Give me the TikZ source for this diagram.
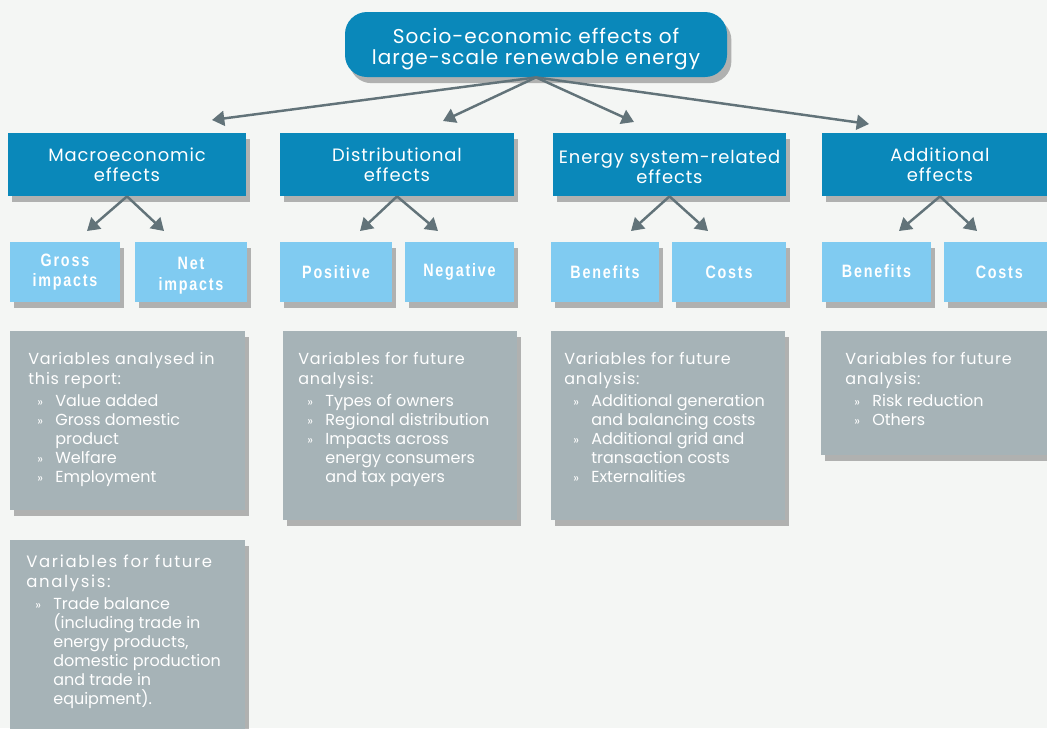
\documentclass[tikz,border=0pt]{standalone}
\usepackage{fontspec}
\setmainfont{Poppins}
\newfontfamily\headfont[LetterSpace=5]{Poppins}
\newfontfamily\titfont[LetterSpace=5]{Poppins}
\newfontfamily\titfontb[LetterSpace=10]{Poppins}
\newfontfamily\labfont[FakeStretch=0.8,LetterSpace=10]{Liberation Sans}
\usetikzlibrary{arrows.meta,shadows,fit}
\definecolor{bgcol}{HTML}{F4F6F4}
\definecolor{dblue}{HTML}{0A88BA}
\definecolor{lblue}{HTML}{80CBF1}
\definecolor{gbox}{HTML}{A6B3B7}
\definecolor{arrcol}{HTML}{627379}
\newcommand{\bul}{\makebox[0.54cm][l]{\hspace{0.18cm}\scriptsize »}}
\newcommand{\ind}{\hspace*{0.54cm}}
\tikzset{
  shad/.style={drop shadow={shadow xshift=2.5pt,shadow yshift=-3.5pt,opacity=0.28,fill=black}},
  rootbox/.style={fill=dblue,rounded corners=0.44cm,inner sep=0pt,shad},
  lvone/.style={fill=dblue,inner sep=0pt,shad},
  lvtwo/.style={fill=lblue,inner sep=0pt,shad},
  greybox/.style={fill=gbox,inner sep=0pt,shad},
  roottext/.style={inner sep=0pt,text=white,align=center,yshift=-2.8pt,
    font=\headfont\fontsize{11.4}{11.9}\selectfont},
  onetext/.style={inner sep=0pt,text=white,align=center,yshift=-0.2pt,
    font=\headfont\fontsize{10.2}{11.3}\selectfont},
  twotext/.style={inner sep=0pt,text=white,align=center,yshift=0pt,
    font=\labfont\bfseries\fontsize{10.2}{11.8}\selectfont},
  gtext/.style={anchor=north west,inner sep=0pt,text=white,align=left,
    font=\fontsize{9.1}{10.8}\selectfont},
  arr/.style={draw=arrcol,line width=1.4pt,-{Triangle[width=8.5pt,length=7pt]}}
}
\begin{document}
\begin{tikzpicture}[x=0.02cm,y=-0.02cm]
\fill[bgcol] (0,0) rectangle (1047,728);
\useasboundingbox (0,0) rectangle (1047,728);

% root
\node[rootbox,fit={(345,12)(727,77)}] (root) {};
\node[roottext] (roott) at (root.center) {Socio-economic effects of\\large-scale renewable energy};

% level 1
\node[lvone,fit={(8,133)(246,196)}] (mac) {};
\node[lvone,fit={(280,133)(514,196)}] (dis) {};
\node[lvone,fit={(553,133)(786,196)}] (ens) {};
\node[lvone,fit={(822,133)(1058,196)}] (add) {};
\node[onetext] (mact) at (mac.center) {Macroeconomic\\effects};
\node[onetext] (dist) at (dis.center) {Distributional\\effects};
\node[onetext] (enst) at ([yshift=-1pt]ens.center) {Energy system-related\\effects};
\node[onetext] (addt) at (add.center) {Additional\\effects};

\coordinate (t1) at (212,120);
\coordinate (t2) at (443,121);
\coordinate (t3) at (634,122);
\coordinate (t4) at (869,124);
\draw[arr] (root.south) -- (t1);
\draw[arr] (root.south) -- (t2);
\draw[arr] (root.south) -- (t3);
\draw[arr] (root.south) -- (t4);

% level 2
\node[lvtwo,fit={(10,242)(120,302)}] (gross) {};
\node[lvtwo,fit={(135,242)(247,302)}] (net) {};
\node[lvtwo,fit={(280,242)(392,302)}] (pos) {};
\node[lvtwo,fit={(405,242)(514,302)}] (neg) {};
\node[lvtwo,fit={(551,242)(659,302)}] (esb) {};
\node[lvtwo,fit={(672,242)(786,302)}] (esc) {};
\node[lvtwo,fit={(822,242)(931,302)}] (adb) {};
\node[lvtwo,fit={(944,242)(1058,302)}] (adc) {};
\node[twotext] (grosst) at ([yshift=0pt]gross.center) {Gross\\impacts};
\node[twotext] (nett) at ([yshift=-2.3pt]net.center) {Net\\impacts};
\node[twotext] (post) at (pos.center) {Positive};
\node[twotext] (negt) at (neg.center) {Negative};
\node[twotext] (esbt) at (esb.center) {Benefits};
\node[twotext] (esct) at (esc.center) {Costs};
\node[twotext] (adbt) at ([yshift=0.5pt]adb.center) {Benefits};
\node[twotext] (adct) at ([xshift=-1pt]adc.center) {Costs};

\coordinate (m1) at (87,231);
\coordinate (m2) at (164,231);
\coordinate (d1) at (360,231);
\coordinate (d2) at (438,231);
\coordinate (e1) at (631,231);
\coordinate (e2) at (708,231);
\coordinate (a1) at (899,231);
\coordinate (a2) at (977,231);
\draw[arr] (mac.south) -- (m1);
\draw[arr] (mac.south) -- (m2);
\draw[arr] (dis.south) -- (d1);
\draw[arr] (dis.south) -- (d2);
\draw[arr] (ens.south) -- (e1);
\draw[arr] (ens.south) -- (e2);
\draw[arr] (add.south) -- (a1);
\draw[arr] (add.south) -- (a2);

% grey boxes
\node[greybox,fit={(10,331)(245,510)}] (g1) {};
\node[greybox,fit={(10,540)(245,740)}] (g2) {};
\node[greybox,fit={(283,331)(517,520)}] (g3) {};
\node[greybox,fit={(551,331)(785,520)}] (g4) {};
\node[greybox,fit={(821,331)(1058,455)}] (g5) {};

\node[gtext] (g1t) at (28,352) {{\titfont Variables analysed in}\\[0.5pt]{\titfont this report:}\\[1.7pt]
\bul Value added\\\bul Gross domestic\\\ind product\\\bul Welfare\\\bul Employment};
\node[gtext] (g2t) at (26,555) {{\titfontb\fontsize{9.4}{10.8}\selectfont Variables for future}\\[0.5pt]{\titfontb\fontsize{9.4}{10.8}\selectfont analysis:}\\[1.7pt]
\bul Trade balance\\\ind (including trade in\\\ind energy products,\\\ind domestic production\\\ind and trade in\\\ind equipment).};
\node[gtext] (g3t) at (298,352) {{\titfont Variables for future}\\[0.5pt]{\titfont analysis:}\\[1.7pt]
\bul Types of owners\\\bul Regional distribution\\\bul Impacts across\\\ind energy consumers\\\ind and tax payers};
\node[gtext] (g4t) at (564,352) {{\titfont Variables for future}\\[0.5pt]{\titfont analysis:}\\[1.7pt]
\bul Additional generation\\\ind and balancing costs\\\bul Additional grid and\\\ind transaction costs\\\bul Externalities};
\node[gtext] (g5t) at (845,352) {{\titfont Variables for future}\\[0.5pt]{\titfont analysis:}\\[1.7pt]
\bul Risk reduction\\\bul Others};
\end{tikzpicture}
\end{document}
